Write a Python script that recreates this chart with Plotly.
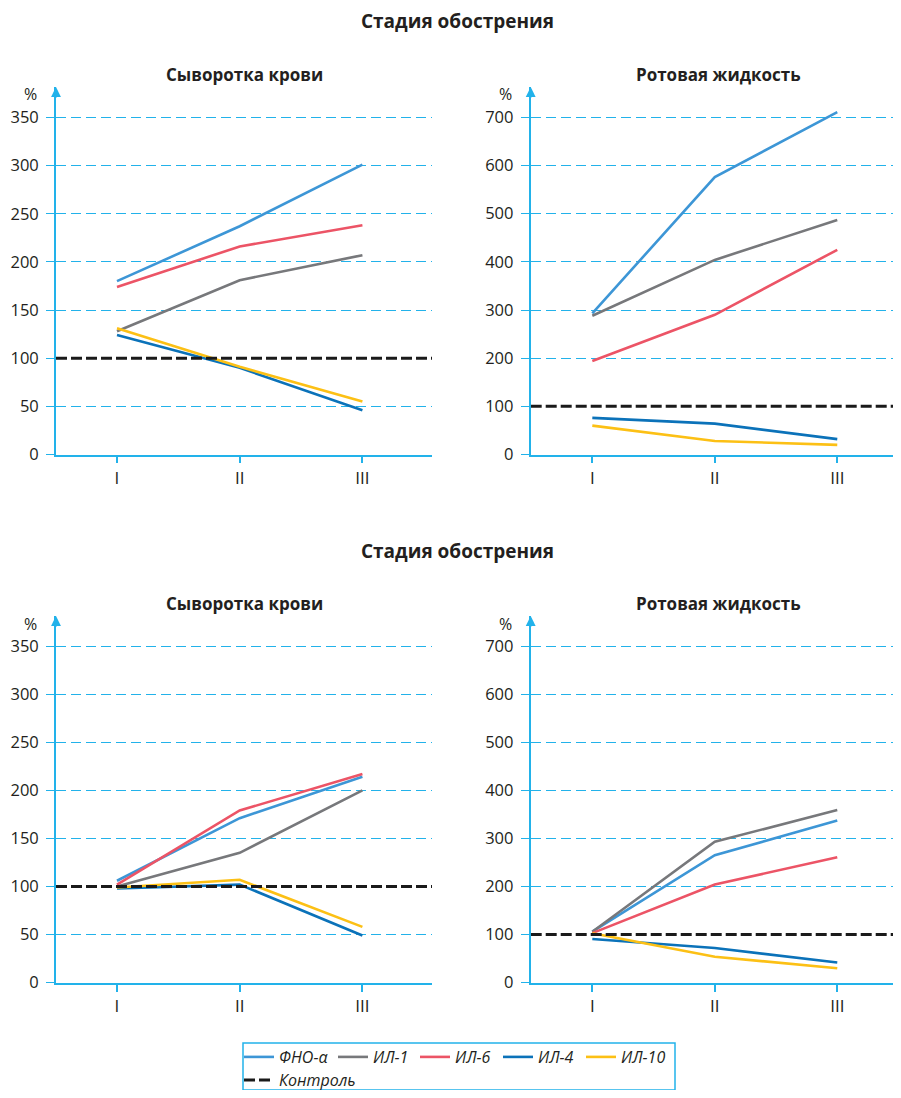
import plotly.graph_objects as go

# ---------------- data ----------------
stages = ["I", "II", "III"]
series_names = ["ФНО-α", "ИЛ-1", "ИЛ-6", "ИЛ-4", "ИЛ-10"]
control_name = "Контроль"
control_value = 100

# Exacerbation stage – blood serum (%)
serum_top = {
    "ФНО-α": [180, 237, 301],
    "ИЛ-1": [128, 181, 207],
    "ИЛ-6": [174, 216, 238],
    "ИЛ-4": [124, 90, 46],
    "ИЛ-10": [131, 91, 55],
}
# Exacerbation stage – oral fluid (%)
oral_top = {
    "ФНО-α": [293, 576, 711],
    "ИЛ-1": [288, 404, 487],
    "ИЛ-6": [194, 290, 425],
    "ИЛ-4": [76, 64, 32],
    "ИЛ-10": [60, 28, 20],
}
# Second block – blood serum (%)
serum_bottom = {
    "ФНО-α": [106, 171, 214],
    "ИЛ-1": [100, 135, 200],
    "ИЛ-6": [102, 179, 217],
    "ИЛ-4": [98, 102, 49],
    "ИЛ-10": [99, 107, 58],
}
# Second block – oral fluid (%)
oral_bottom = {
    "ФНО-α": [106, 265, 337],
    "ИЛ-1": [106, 293, 359],
    "ИЛ-6": [103, 204, 261],
    "ИЛ-4": [91, 72, 42],
    "ИЛ-10": [103, 54, 30],
}

serum_ticks = [0, 50, 100, 150, 200, 250, 300, 350]
oral_ticks = [0, 100, 200, 300, 400, 500, 600, 700]

block_title = "Стадия обострения"
serum_title = "Сыворотка крови"
oral_title = "Ротовая жидкость"
unit_label = "%"

# ---------------- styling ----------------
PAGE_W, PAGE_H = 901, 1098
BODY = 8  # default body margin of the html page
W, H = PAGE_W - 2 * BODY, PAGE_H - 2 * BODY
FONT = "Open Sans"
TXT = "#231f20"
CYAN = "#22b2ea"
colors = {
    "ФНО-α": "#3d96d6",
    "ИЛ-1": "#77787b",
    "ИЛ-6": "#ec5466",
    "ИЛ-4": "#0b72b9",
    "ИЛ-10": "#fcc015",
}


def fx(p):
    """page x pixel -> paper fraction"""
    return min(max((p - BODY) / W, 0), 1)


def fy(p):
    """page y pixel -> paper fraction"""
    return min(max(1 - (p - BODY) / H, 0), 1)


panels = [
    # data, ticks, x-domain px, y-domain px(top,bottom), xrange, yrange top
    (serum_top, serum_ticks, (56, 432), (87, 454.5), (-0.497, 2.567), 381.6),
    (oral_top, oral_ticks, (530.7, 893), (87, 454.5), (-0.503, 2.455), 763),
    (serum_bottom, serum_ticks, (56, 432), (616, 982.7), (-0.497, 2.567), 381.2),
    (oral_bottom, oral_ticks, (530.7, 893), (616, 982.7), (-0.503, 2.455), 762.4),
]
panel_centers = [244, 718, 244, 718]

legend_keys = ["legend", "legend2", "legend3", "legend4", "legend5"]

fig = go.Figure()
annotations = []
layout_axes = {}

for i, (data, ticks, xd, yd, xr, ytop) in enumerate(panels):
    n = i + 1
    xa = "x" if n == 1 else f"x{n}"
    ya = "y" if n == 1 else f"y{n}"
    xkey = "xaxis" if n == 1 else f"xaxis{n}"
    ykey = "yaxis" if n == 1 else f"yaxis{n}"

    for k, name in enumerate(series_names):
        fig.add_trace(go.Scatter(
            x=list(range(len(stages))), y=data[name], mode="lines",
            name=name, line=dict(color=colors[name], width=2.6),
            xaxis=xa, yaxis=ya, showlegend=(i == 0), legend=legend_keys[k],
            legendgroup=name, hoverinfo="skip",
        ))
    fig.add_trace(go.Scatter(
        x=[xr[0], xr[1]], y=[control_value, control_value], mode="lines",
        name=control_name, line=dict(color="#1a1a1a", width=3, dash="11px,4px"),
        xaxis=xa, yaxis=ya, showlegend=(i == 0), legend="legend6",
        legendgroup=control_name, hoverinfo="skip",
    ))

    layout_axes[xkey] = dict(
        domain=[fx(xd[0]), fx(xd[1])], range=list(xr), anchor=ya,
        tickmode="array", tickvals=list(range(len(stages))), ticktext=stages,
        showline=True, linecolor=CYAN, linewidth=1.8,
        ticks="outside", ticklen=7, tickwidth=1.5, tickcolor=CYAN,
        showgrid=False, zeroline=False,
        tickfont=dict(family=FONT, size=17, color=TXT),
        ticklabelstandoff=0, fixedrange=True,
    )
    layout_axes[ykey] = dict(
        domain=[fy(yd[1]), fy(yd[0])], range=[0, ytop], anchor=xa,
        tickmode="array", tickvals=ticks,
        showline=True, linecolor=CYAN, linewidth=1.8,
        ticks="outside", ticklen=8, tickwidth=1.2, tickcolor=CYAN,
        showgrid=True, gridcolor=CYAN, gridwidth=1.2, griddash="10px,5px",
        zeroline=False,
        tickfont=dict(family=FONT, size=16.5, color=TXT),
        ticklabelstandoff=4, fixedrange=True,
    )

    # arrow head on top of the y axis
    annotations.append(dict(
        x=fx(xd[0]), y=fy(yd[0]), xref="paper", yref="paper",
        ax=0, ay=12, axref="pixel", ayref="pixel", showarrow=True,
        arrowhead=2, arrowsize=1.1, arrowwidth=1.8, arrowcolor=CYAN, text="",
    ))
    # unit label
    annotations.append(dict(
        x=fx(xd[0] - 17), y=fy(yd[0] + 7.5), xref="paper", yref="paper",
        text=unit_label, showarrow=False, xanchor="right", yanchor="middle",
        font=dict(family=FONT, size=16, color=TXT),
    ))
    # panel title
    annotations.append(dict(
        x=fx(panel_centers[i]), y=fy(yd[0] - 13),
        xref="paper", yref="paper",
        text=f"<b>{serum_title if i % 2 == 0 else oral_title}</b>",
        showarrow=False, xanchor="center", yanchor="middle",
        font=dict(family=FONT, size=17, color=TXT),
    ))

# block titles
for ty in (21, 551):
    annotations.append(dict(
        x=fx(457), y=fy(ty), xref="paper", yref="paper",
        text=f"<b>{block_title}</b>", showarrow=False,
        xanchor="center", yanchor="middle",
        font=dict(family=FONT, size=19, color=TXT),
    ))

legend_font = dict(family=FONT, size=16, color=TXT, style="italic")
# page x of each legend item (one legend per entry to reproduce spacing)
legend_x = [239, 333, 415, 498, 581, 239]
legend_y = [1057, 1057, 1057, 1057, 1057, 1080]
legends = {}
for key, lx, ly in zip(legend_keys + ["legend6"], legend_x, legend_y):
    legends[key] = dict(
        orientation="h", x=fx(lx), y=fy(ly), xanchor="left", yanchor="middle",
        bgcolor="rgba(0,0,0,0)", borderwidth=0, font=legend_font, itemwidth=30,
    )

fig.update_layout(
    width=W, height=H, margin=dict(l=0, r=0, t=0, b=0, autoexpand=False),
    paper_bgcolor="white", plot_bgcolor="white",
    showlegend=True,
    annotations=annotations,
    shapes=[dict(
        type="rect", xref="paper", yref="paper",
        x0=fx(243), x1=fx(675), y0=0, y1=fy(1043),
        line=dict(color=CYAN, width=1.5), fillcolor="rgba(0,0,0,0)",
    )],
    **legends,
    **layout_axes,
)

fig.write_html("out.html")
